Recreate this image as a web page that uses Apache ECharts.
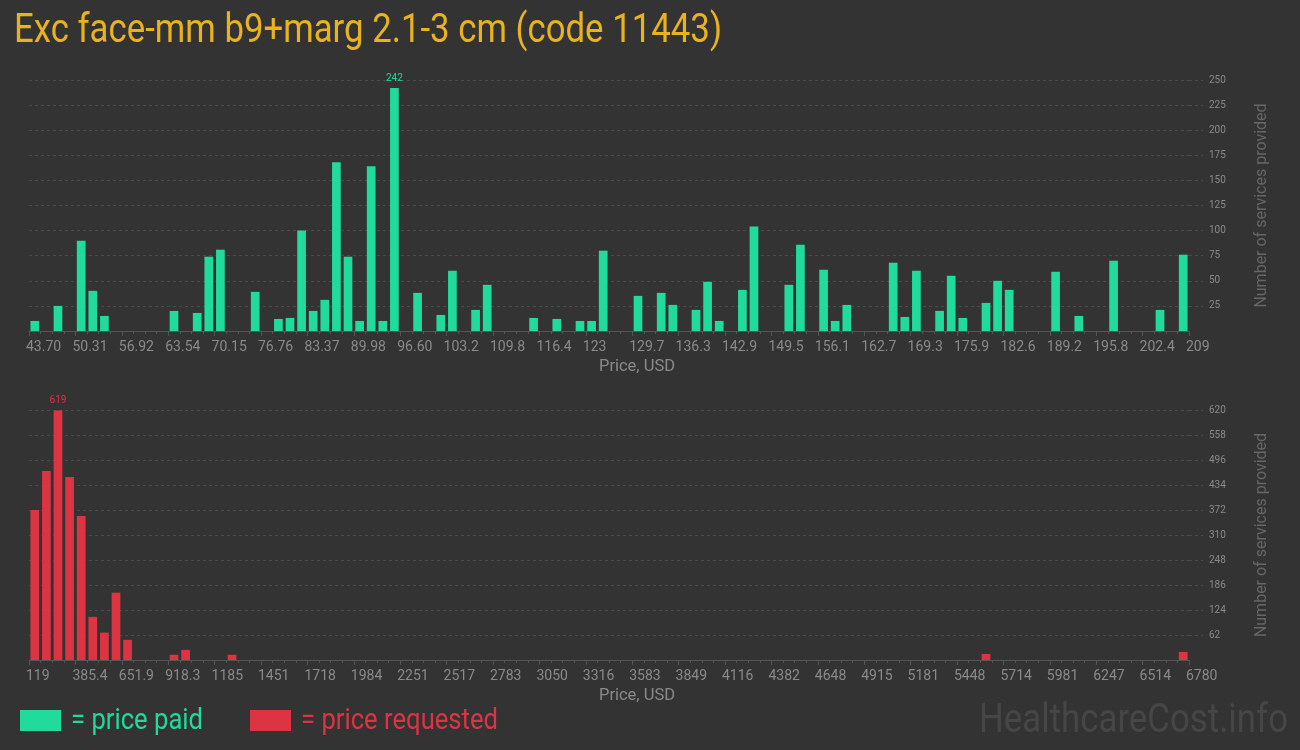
<!DOCTYPE html>
<html>
<head>
<meta charset="utf-8">
<script src="https://cdn.jsdelivr.net/npm/echarts@6/dist/echarts.min.js"></script>
<style>
html,body{margin:0;padding:0;background:#333333;}
#chart{width:1300px;height:750px;}
</style>
</head>
<body>
<div id="chart"></div>
<script>
// ---- data ----
const titleText = 'Exc face-mm b9+marg 2.1-3 cm (code 11443)';
const paidTickLabels = ['43.70','50.31','56.92','63.54','70.15','76.76','83.37','89.98','96.60','103.2','109.8','116.4','123','129.7','136.3','142.9','149.5','156.1','162.7','169.3','175.9','182.6','189.2','195.8','202.4','209'];
const requestedTickLabels = ['119','385.4','651.9','918.3','1185','1451','1718','1984','2251','2517','2783','3050','3316','3583','3849','4116','4382','4648','4915','5181','5448','5714','5981','6247','6514','6780'];
const paidCounts = [
  10,0,25,0,90,40,15,0,0,0,
  0,0,20,0,18,74,81,0,0,39,
  0,12,13,100,20,31,168,74,10,164,
  10,242,0,38,0,16,60,0,21,46,
  0,0,0,13,0,12,0,10,10,80,
  0,0,35,0,38,26,0,21,49,10,
  0,41,104,0,0,46,86,0,61,10,
  26,0,0,0,68,14,60,0,20,55,
  13,0,28,50,41,0,0,0,59,0,
  15,0,0,70,0,0,0,21,0,76
];
const requestedCounts = [
  372,469,619,454,357,107,68,167,50,0,
  0,0,13,25,0,0,0,13,0,0,
  0,0,0,0,0,0,0,0,0,0,
  0,0,0,0,0,0,0,0,0,0,
  0,0,0,0,0,0,0,0,0,0,
  0,0,0,0,0,0,0,0,0,0,
  0,0,0,0,0,0,0,0,0,0,
  0,0,0,0,0,0,0,0,0,0,
  0,0,15,0,0,0,0,0,0,0,
  0,0,0,0,0,0,0,0,0,20
];
const paidAxis = {max:250, interval:25};
const requestedAxis = {max:620, interval:62};
const binsPerLabel = 4;

// ---- style ----
const GREEN = '#20db9b';
const RED = '#dd3444';
const GOLD = '#e9b31f';
const AXIS_FONT = "Roboto, sans-serif";

function fitScale(text, size, width){
  const ctx = document.createElement('canvas').getContext('2d');
  ctx.font = size + 'px Roboto';
  return width / ctx.measureText(text).width;
}

function labelAxisData(ticks){
  const out = [];
  ticks.forEach((t, i) => {
    out.push(t);
    if (i < ticks.length - 1) for (let k = 1; k < binsPerLabel; k++) out.push('');
  });
  return out;
}

function withMaxLabel(values, color){
  const mx = Math.max.apply(null, values);
  return values.map(v => v === mx ? {value:v, label:{show:true, position:'top', distance:5, color:color, fontSize:10, fontFamily:AXIS_FONT}} : v);
}

function xAxes(gi, ticks, count){
  const bins = [];
  for (let i = 0; i < count; i++) bins.push(String(i));
  return [
    {gridIndex:gi, type:'category', data:bins, boundaryGap:true, position:'bottom',
     axisLine:{show:true, lineStyle:{color:'#555555', width:1}},
     axisTick:{show:true, interval:0, length:3, lineStyle:{color:'#555555'}},
     axisLabel:{show:false}, splitLine:{show:false}},
    {gridIndex:gi, type:'category', data:labelAxisData(ticks), boundaryGap:false, position:'bottom',
     axisLine:{show:false},
     axisTick:{show:true, interval:binsPerLabel-1, length:5, lineStyle:{color:'#555555'}},
     axisLabel:{interval:binsPerLabel-1, color:'#8a8a8a', fontSize:14, fontFamily:AXIS_FONT, margin:9, align:'left', padding:[0,0,0,-3]},
     splitLine:{show:false},
     name:'Price, USD', nameLocation:'middle', nameGap:27,
     nameTextStyle:{color:'#8a8a8a', fontSize:16.5, fontFamily:AXIS_FONT, padding:[0,0,0,56]}}
  ];
}

function yAxis(gi, ax){
  return {gridIndex:gi, type:'value', position:'right', min:0, max:ax.max, interval:ax.interval,
    axisLine:{show:false},
    axisTick:{show:true, length:14, lineStyle:{color:'#4a4a4a', type:[3,3]}},
    splitLine:{show:true, lineStyle:{color:'#4a4a4a', type:[3,3]}},
    axisLabel:{showMinLabel:false, color:'#8a8a8a', fontSize:10, fontFamily:AXIS_FONT, margin:20},
    name:'Number of services provided', nameLocation:'middle', nameRotate:90, nameGap:65,
    nameTextStyle:{color:'#666666', fontSize:16, fontFamily:AXIS_FONT, padding:[0,0,8,0]}};
}

const chart = echarts.init(document.getElementById('chart'), null, {renderer:'canvas'});
const legendPaid = '= price paid';
const legendReq = '= price requested';
const wm = 'HealthcareCost.info';

chart.setOption({
  backgroundColor:'#333333',
  animation:false,
  grid:[
    {left:29, right:111, top:80, height:251},
    {left:29, right:111, top:410, height:250}
  ],
  xAxis:[].concat(xAxes(0, paidTickLabels, paidCounts.length), xAxes(1, requestedTickLabels, requestedCounts.length)),
  yAxis:[yAxis(0, paidAxis), yAxis(1, requestedAxis)],
  series:[
    {name:'price paid', type:'bar', xAxisIndex:0, yAxisIndex:0, data:withMaxLabel(paidCounts, GREEN),
     barCategoryGap:'25%', itemStyle:{color:GREEN}},
    {name:'price requested', type:'bar', xAxisIndex:2, yAxisIndex:1, data:withMaxLabel(requestedCounts, RED),
     barCategoryGap:'25%', itemStyle:{color:RED}}
  ],
  graphic:[
    {type:'text', x:14, y:32, scaleX:fitScale(titleText, 40, 708),
     style:{text:titleText, font:'40px Roboto', fill:GOLD, verticalAlign:'middle', align:'left'}},
    {type:'rect', shape:{x:20, y:710, width:41, height:21}, style:{fill:GREEN}},
    {type:'text', x:71, y:722, scaleX:fitScale(legendPaid, 29, 132),
     style:{text:legendPaid, font:'29px Roboto', fill:GREEN, verticalAlign:'middle', align:'left'}},
    {type:'rect', shape:{x:250, y:710, width:41, height:21}, style:{fill:RED}},
    {type:'text', x:301, y:722, scaleX:fitScale(legendReq, 29, 197),
     style:{text:legendReq, font:'29px Roboto', fill:RED, verticalAlign:'middle', align:'left'}},
    {type:'text', x:979, y:722, scaleX:fitScale(wm, 41, 309),
     style:{text:wm, font:'41px Roboto', fill:'#464646', verticalAlign:'middle', align:'left'}}
  ]
});
</script>
</body>
</html>
